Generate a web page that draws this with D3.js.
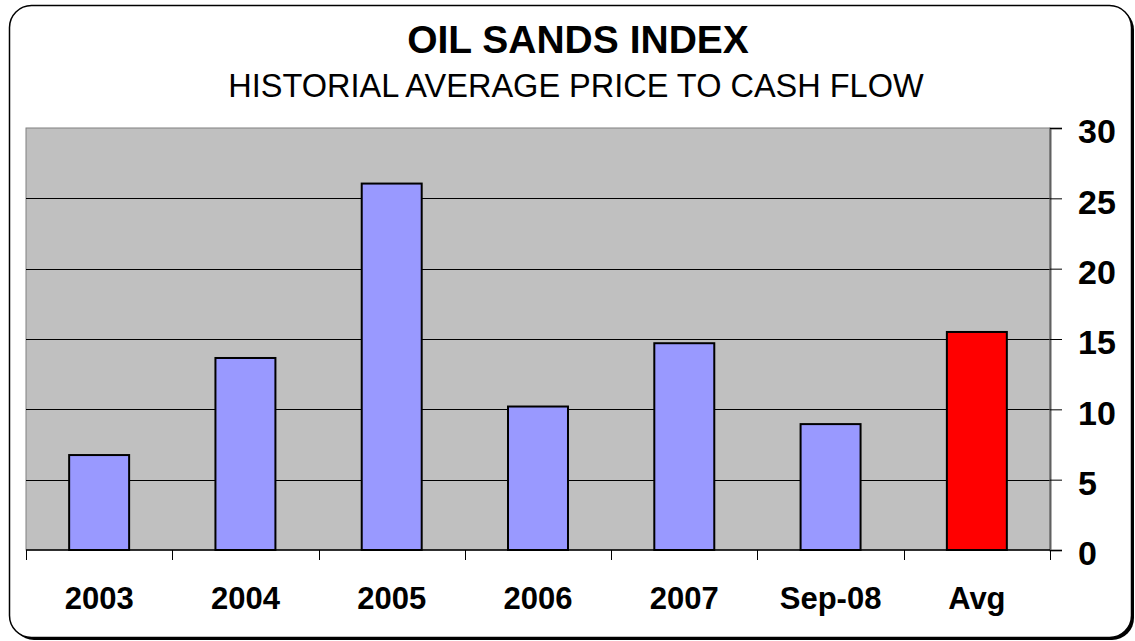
<!DOCTYPE html>
<html>
<head>
<meta charset="utf-8">
<script src="https://cdn.jsdelivr.net/npm/d3@7"></script>
<style>
	body { margin: 0; background: #fff; }
	svg { display: block; font-family: "Liberation Sans", Arial, sans-serif; }
</style>
</head>
<body>
<script>
const categories = ['2003', '2004', '2005', '2006', '2007', 'Sep-08', 'Avg'];
const values = [6.75, 13.65, 26.05, 10.2, 14.7, 8.95, 15.5];
const highlight = ['Avg'];
const yTicks = [0, 5, 10, 15, 20, 25, 30];

const width = 1135, height = 641;
const margin = { left: 26, right: 85, top: 128, bottom: 91 };

let svg = d3.select('body').append('svg')
	.attr('width', width)
	.attr('height', height);

// frame with small shadow
svg.append('rect')
	.attr('x', 12).attr('y', 8)
	.attr('width', 1122).attr('height', 632)
	.attr('rx', 22)
	.style('fill', '#000');
svg.append('rect')
	.attr('x', 9.5).attr('y', 5.5)
	.attr('width', 1122).attr('height', 632)
	.attr('rx', 22)
	.style('fill', '#fff')
	.style('stroke', '#000')
	.style('stroke-width', 1.5);

svg.append('text')
	.attr('x', 578).attr('y', 53)
	.attr('text-anchor', 'middle')
	.style('font-size', '39px')
	.style('font-weight', 'bold')
	.text('OIL SANDS INDEX');

svg.append('text')
	.attr('x', 576).attr('y', 97)
	.attr('text-anchor', 'middle')
	.style('font-size', '32.5px')
	.text('HISTORIAL AVERAGE PRICE TO CASH FLOW');

let x = d3.scaleBand()
	.domain(categories)
	.range([margin.left, width - margin.right])
	.paddingInner(0.59)
	.paddingOuter(0.295);

let y = d3.scaleLinear()
	.domain([0, 30])
	.range([height - margin.bottom, margin.top]);

let plotLeft = margin.left, plotRight = width - margin.right;

// plot background
svg.append('rect')
	.attr('x', plotLeft).attr('y', y(30))
	.attr('width', plotRight - plotLeft).attr('height', y(0) - y(30))
	.style('fill', '#c0c0c0')
	.style('stroke', '#808080')
	.style('stroke-width', 1);

// gridlines
svg.selectAll('line.grid')
	.data(yTicks.filter(t => t > 0 && t < 30))
	.enter().append('line')
	.attr('class', 'grid')
	.attr('x1', plotLeft).attr('x2', plotRight)
	.attr('y1', d => Math.round(y(d)) + 0.5)
	.attr('y2', d => Math.round(y(d)) + 0.5)
	.style('stroke', '#000')
	.style('stroke-width', 1);

// bars
svg.selectAll('rect.bar')
	.data(categories)
	.enter().append('rect')
	.attr('class', 'bar')
	.attr('x', d => x(d))
	.attr('y', (d, i) => y(values[i]))
	.attr('width', x.bandwidth())
	.attr('height', (d, i) => y(0) - y(values[i]))
	.style('fill', d => highlight.includes(d) ? '#ff0000' : '#9999ff')
	.style('stroke', '#000')
	.style('stroke-width', 2);

// right axis
let yAxis = d3.axisRight(y)
	.tickValues(yTicks)
	.tickSize(12)
	.tickPadding(16);
let ya = svg.append('g')
	.attr('transform', `translate(${plotRight},0)`)
	.call(yAxis);
ya.select('.domain').style('stroke', '#606060').style('stroke-width', 2);
ya.selectAll('.tick line').style('stroke', '#000');
ya.selectAll('.tick text')
	.style('font-size', '34px')
	.style('font-weight', 'bold')
	.style('font-family', '"Liberation Sans", Arial, sans-serif')
	.style('fill', '#000')
	.attr('dy', '0.44em');

// bottom axis line with category boundary ticks
svg.append('line')
	.attr('x1', plotLeft).attr('x2', plotRight)
	.attr('y1', y(0)).attr('y2', y(0))
	.style('stroke', '#000')
	.style('stroke-width', 1.5);

let step = x.step();
let bounds = d3.range(categories.length + 1).map(i => x(categories[0]) - (step - x.bandwidth()) / 2 + i * step);
svg.selectAll('line.xtick')
	.data(bounds)
	.enter().append('line')
	.attr('class', 'xtick')
	.attr('x1', d => Math.round(d) + 0.5).attr('x2', d => Math.round(d) + 0.5)
	.attr('y1', y(0)).attr('y2', y(0) + 10)
	.style('stroke', '#000')
	.style('stroke-width', 1);

svg.selectAll('text.xlabel')
	.data(categories)
	.enter().append('text')
	.attr('class', 'xlabel')
	.attr('x', d => x(d) + x.bandwidth() / 2)
	.attr('y', 609)
	.attr('text-anchor', 'middle')
	.style('font-size', '31px')
	.style('font-weight', 'bold')
	.text(d => d);
</script>
</body>
</html>
